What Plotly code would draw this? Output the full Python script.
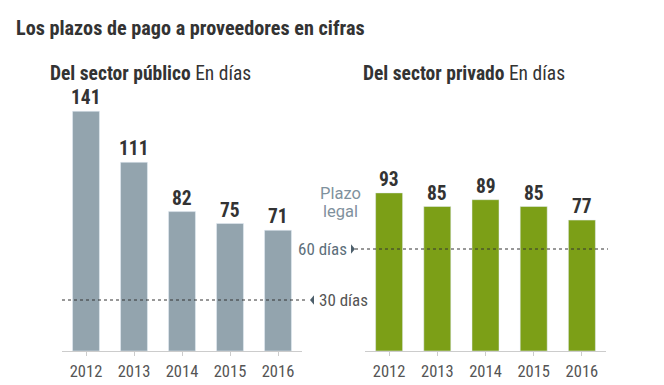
import plotly.graph_objects as go

years = ["2012", "2013", "2014", "2015", "2016"]
publico = [141, 111, 82, 75, 71]
privado = [93, 85, 89, 85, 77]
plazo_publico = 30
plazo_privado = 60

# page body has an 8px margin; figure sized so it reaches the window's edge
OFF = 8
W, H = 664 - OFF, 385 - OFF
FONT = "Roboto Condensed, Liberation Sans Narrow, Arial Narrow, Roboto, sans-serif"
FONT_REG = "Roboto, Liberation Sans, Arial, sans-serif"
GRAY = "#93a4ae"
GREEN = "#7c9f17"

def px(x):
    return (x - OFF) / W

def py(y):
    return 1 - (y - OFF) / H

fig = go.Figure()
fig.add_trace(go.Bar(x=years, y=publico, marker_color=GRAY, xaxis="x", yaxis="y",
                     hoverinfo="skip"))
fig.add_trace(go.Bar(x=years, y=privado, marker_color=GREEN, xaxis="x2", yaxis="y2",
                     hoverinfo="skip"))

annotations = []
for i, v in enumerate(publico):
    annotations.append(dict(x=i, y=v, xref="x", yref="y", text=f"<b>{v}</b>",
                            showarrow=False, yanchor="bottom", yshift=0,
                            font=dict(family=FONT, size=19.5, color="#333")))
for i, v in enumerate(privado):
    annotations.append(dict(x=i, y=v, xref="x2", yref="y2", text=f"<b>{v}</b>",
                            showarrow=False, yanchor="bottom", yshift=0,
                            font=dict(family=FONT, size=19.5, color="#333")))

annotations += [
    dict(x=px(14), y=py(28), xref="paper", yref="paper", xanchor="left", yanchor="middle",
         text="<b>Los plazos de pago a proveedores en cifras</b>", showarrow=False,
         font=dict(family=FONT, size=20.2, color="#333")),
    dict(x=px(48), y=py(73), xref="paper", yref="paper", xanchor="left", yanchor="middle",
         text="<b>Del sector público</b> En días", showarrow=False,
         font=dict(family=FONT, size=19.5, color="#333")),
    dict(x=px(361), y=py(73), xref="paper", yref="paper", xanchor="left", yanchor="middle",
         text="<b>Del sector privado</b> En días", showarrow=False,
         font=dict(family=FONT, size=19.5, color="#333")),
    dict(x=px(317), y=plazo_publico, xref="paper", yref="y", xanchor="left", yanchor="middle",
         text=f"{plazo_publico} días", showarrow=False,
         font=dict(family=FONT, size=17, color="#555")),
    dict(x=px(349), y=plazo_privado, xref="paper", yref="y2", xanchor="right", yanchor="middle",
         text=f"{plazo_privado} días", showarrow=False,
         font=dict(family=FONT, size=17, color="#5d6f7b")),
    dict(x=px(340), y=py(193), xref="paper", yref="paper", xanchor="center", yanchor="middle",
         text="Plazo", showarrow=False,
         font=dict(family=FONT_REG, size=16.5, color="#7f919d")),
    dict(x=px(340), y=py(211), xref="paper", yref="paper", xanchor="center", yanchor="middle",
         text="legal", showarrow=False,
         font=dict(family=FONT_REG, size=16.5, color="#7f919d")),
]

shapes = [
    dict(type="line", xref="paper", yref="y", x0=px(62), x1=px(306),
         y0=plazo_publico, y1=plazo_publico, line=dict(color="#333", width=1, dash="dot")),
    dict(type="line", xref="paper", yref="y2", x0=px(355), x1=px(608),
         y0=plazo_privado, y1=plazo_privado, line=dict(color="#333", width=1, dash="dot")),
    dict(type="path", xref="paper", yref="y",
         path=f"M {px(310)} {plazo_publico} L {px(314)} {plazo_publico + 2.8} L {px(314)} {plazo_publico - 2.8} Z",
         fillcolor="#4d5f6b", line=dict(width=0)),
    dict(type="path", xref="paper", yref="y2",
         path=f"M {px(355)} {plazo_privado} L {px(351)} {plazo_privado + 2.8} L {px(351)} {plazo_privado - 2.8} Z",
         fillcolor="#4d5f6b", line=dict(width=0)),
]

ydom = [py(351), py(96)]
xcommon = dict(type="category", range=[-0.5, 4.5], showline=True, linecolor="#cccccc",
               linewidth=1, ticks="outside", ticklen=4, tickcolor="#cccccc", showgrid=False,
               ticklabelstandoff=1, automargin=False,
               tickfont=dict(family=FONT, size=16.5, color="#555"), fixedrange=True)
ycommon = dict(range=[0, 150], visible=False, showgrid=False, fixedrange=True, domain=ydom,
               automargin=False)

fig.update_layout(
    width=W, height=H, margin=dict(l=0, r=0, t=0, b=0, autoexpand=False),
    paper_bgcolor="white", plot_bgcolor="white", showlegend=False,
    bargap=0.44,
    xaxis=dict(domain=[px(62), px(302)], anchor="y", **xcommon),
    yaxis=dict(anchor="x", **ycommon),
    xaxis2=dict(domain=[px(365), px(606)], anchor="y2", **xcommon),
    yaxis2=dict(anchor="x2", **ycommon),
    annotations=annotations, shapes=shapes,
)

fig.write_html("out.html")
